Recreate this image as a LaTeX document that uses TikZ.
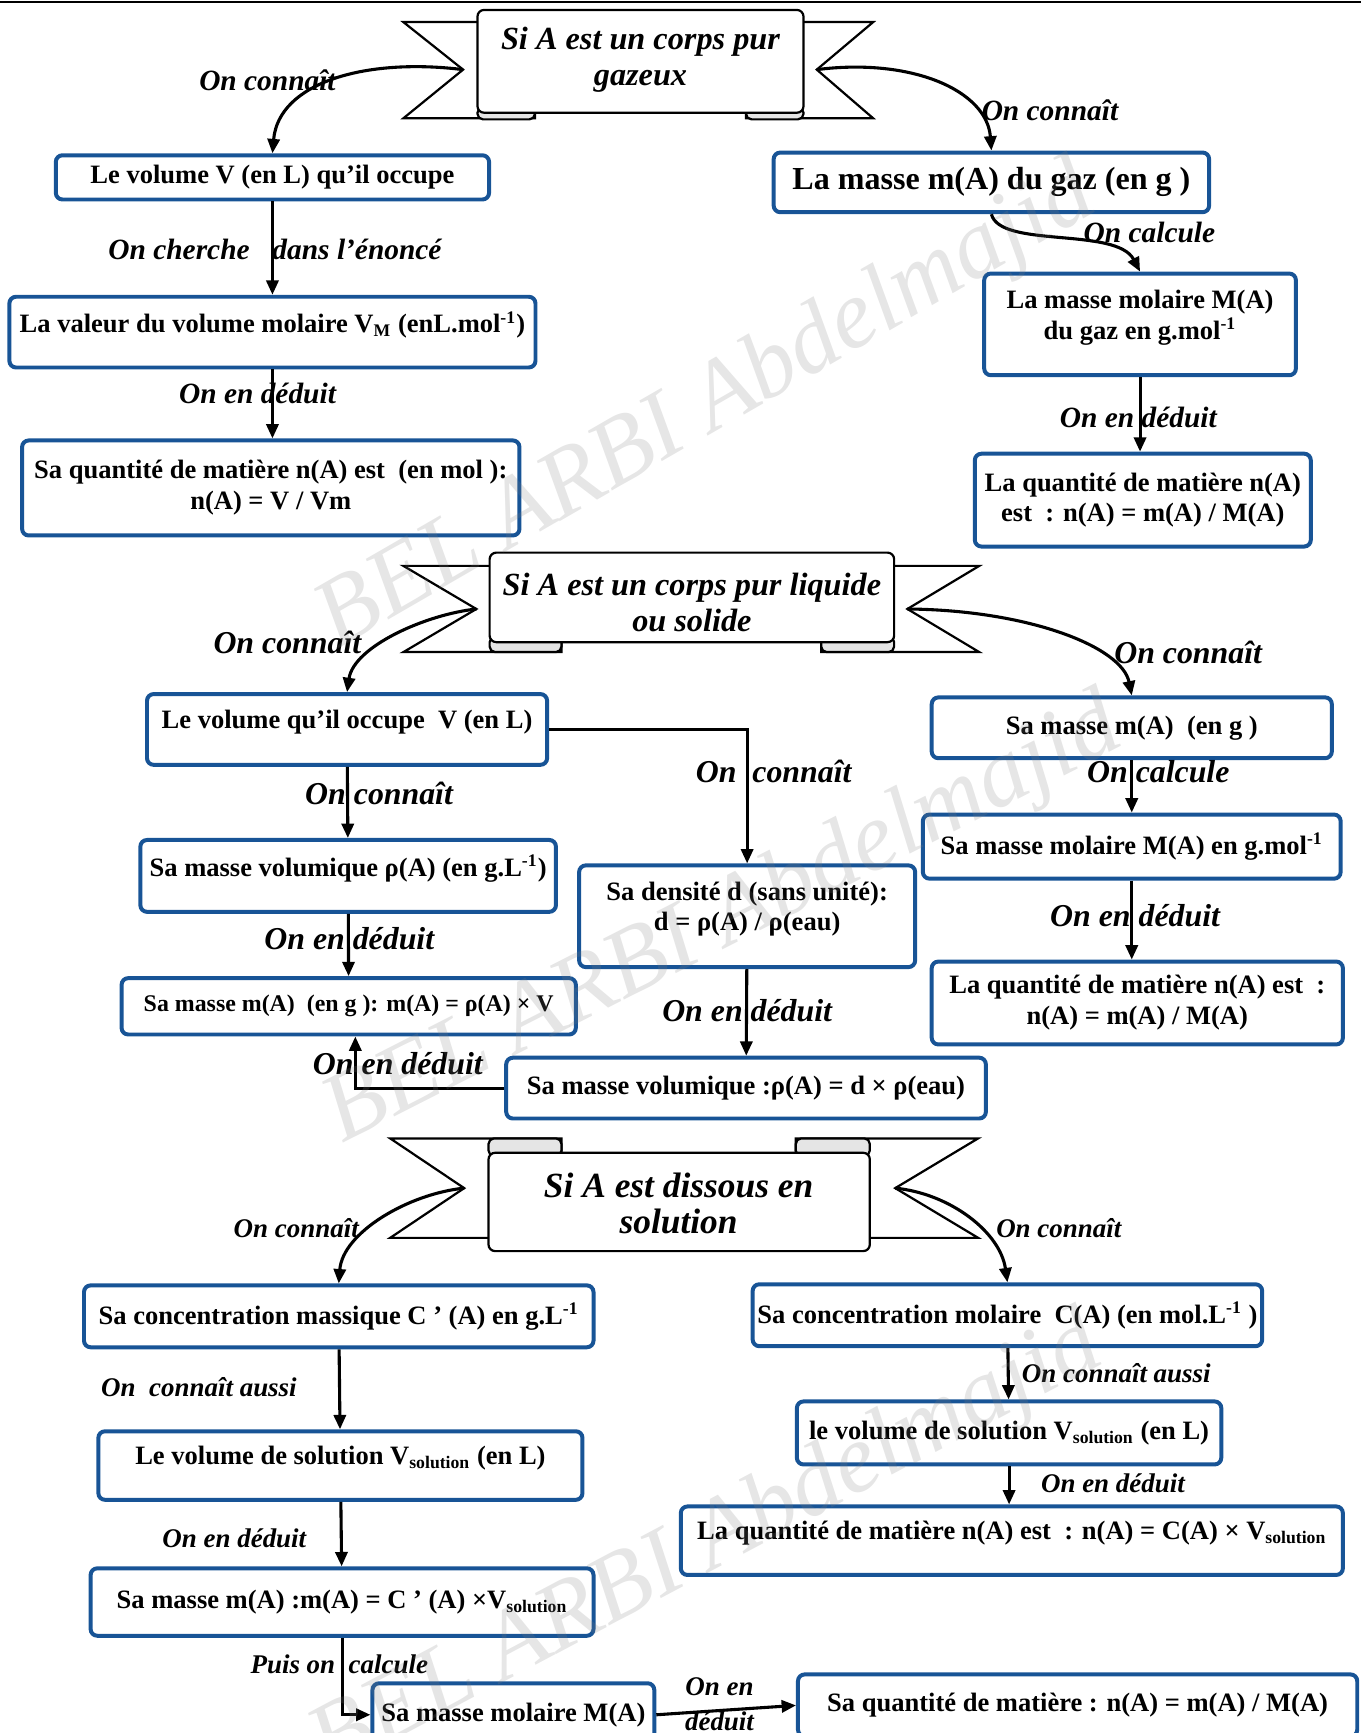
\documentclass[tikz,border=0pt]{standalone}
\usepackage{fontspec}
\setmainfont{Liberation Serif}
\usetikzlibrary{arrows.meta}
\definecolor{boxblue}{RGB}{24,84,150}

\begin{document}
\begin{tikzpicture}[x=0.5pt,y=-0.5pt,
		box/.style={draw=boxblue,line width=1.8pt,rounded corners=3pt,fill=white,align=center,inner sep=1pt,font=\bfseries\fontsize{#1}{14}\selectfont},
		box/.default=12,
		high/.style={text depth=9pt},
		lbl/.style={font=\bfseries\itshape\fontsize{#1}{15.5}\selectfont,inner sep=0pt,align=center},
		arr/.style={line width=1.4pt,-{Triangle[length=6.5pt,width=5.5pt]}},
		ribbon/.style={draw,line width=1pt,fill=white},
		roll/.style={draw,line width=1pt,fill=gray!20,rounded corners=2.5pt},
		title/.style={font=\bfseries\itshape\fontsize{#1}{16.5}\selectfont,align=center},
		wmark/.style={text=gray,opacity=0.2,font=\itshape\fontsize{44}{44}\selectfont}]
		\useasboundingbox (0,0) rectangle (1231,1568);
		\draw[line width=1pt] (0,2) -- (1231,2);
		%Banner 1
		\draw[ribbon] (432,20) -- (365,20) -- (419,63) -- (365,107) -- (484,107) -- (484,30) -- cycle;
		\draw[ribbon] (727,20) -- (790,20) -- (739,63) -- (790,107) -- (675,107) -- (675,30) -- cycle;
		\draw[roll] (432,97) rectangle (484,108);
		\draw[roll] (675,97) rectangle (727,108);
		\draw[ribbon,rounded corners=3pt] (432,9) rectangle (727,102);
		\node[title=14.6] (g1) at (579.5,54) {Si A est un corps pur\\gazeux};
		\coordinate (g1l) at (419,63);
		\coordinate (g1r) at (739,63);
		%Banner 2
		\draw[ribbon] (443,512) -- (365,512) -- (431,551) -- (365,590) -- (508,590) -- (508,520) -- cycle;
		\draw[ribbon] (809,512) -- (886,512) -- (821,551) -- (886,590) -- (743,590) -- (743,520) -- cycle;
		\draw[roll] (443,576) rectangle (508,590);
		\draw[roll] (743,576) rectangle (809,590);
		\draw[ribbon,rounded corners=3pt] (443,500) rectangle (809,581);
		\node[title=14.6] (g2) at (626,545) {Si A est un corps pur liquide\\ou solide};
		\coordinate (g2l) at (431,551);
		\coordinate (g2r) at (821,551);
		%Banner 3
		\draw[ribbon] (442,1120) -- (353,1120) -- (420,1075) -- (353,1030) -- (508,1030) -- (508,1100) -- cycle;
		\draw[ribbon] (787,1120) -- (885,1120) -- (810,1075) -- (885,1030) -- (720,1030) -- (720,1100) -- cycle;
		\draw[roll] (442,1030) rectangle (508,1046);
		\draw[roll] (720,1030) rectangle (787,1046);
		\draw[ribbon,rounded corners=3pt] (442,1043) rectangle (787,1132);
		\node[title=16] (g3) at (614,1089) {Si A est dissous en\\solution};
		\coordinate (g3l) at (420,1075);
		\coordinate (g3r) at (810,1075);
		%Boxes: gaz
		\node[box, minimum width=196pt, minimum height=20pt] (vol) at (246.5,160.5) {Le volume V (en L) qu’il occupe};
		\node[box=14.5, minimum width=197pt, minimum height=27pt] (mgaz) at (897,165) {La masse m(A) du gaz (en g )};
		\node[box, high, minimum width=238pt, minimum height=32pt] (vm) at (246.5,300.5) {La valeur du volume molaire V\textsubscript{M} (enL.mol\textsuperscript{-1})};
		\node[box, minimum width=225pt, minimum height=43pt] (nv) at (245,441.5) {Sa quantité de matière n(A) est~ (en mol ):\\n(A) = V / Vm};
		\node[box, high, minimum width=141pt, minimum height=46pt] (Mgaz) at (1031.5,293.5) {La masse molaire M(A)\\du gaz en g.mol\textsuperscript{-1}};
		\node[box, minimum width=152pt, minimum height=42pt] (nm) at (1034,452.5) {La quantité de matière n(A)\\est~ : n(A) = m(A) / M(A)};
		%Boxes: liquide ou solide
		\node[box, high, minimum width=181pt, minimum height=32pt] (vliq) at (314,660) {Le volume qu’il occupe~ V (en L)};
		\node[box, high, minimum width=188pt, minimum height=32.5pt] (rho) at (315,792.5) {Sa masse volumique ρ(A) (en g.L\textsuperscript{-1})};
		\node[box=10.8, minimum width=205.5pt, minimum height=25.5pt] (mrho) at (315.5,910.5) {Sa masse m(A)~ (en g ): m(A) = ρ(A) × V};
		\node[box, high, minimum width=152pt, minimum height=46pt] (dens) at (676,829) {Sa densité d (sans unité):\\d = ρ(A) / ρ(eau)};
		\node[box, minimum width=217pt, minimum height=27.5pt] (rhod) at (675,984.5) {Sa masse volumique :ρ(A) = d × ρ(eau)};
		\node[box, minimum width=181pt, minimum height=27.5pt] (mliq) at (1024,658.5) {Sa masse m(A)~ (en g )};
		\node[box, minimum width=189pt, minimum height=29pt] (Mliq) at (1024,766) {Sa masse molaire M(A) en g.mol\textsuperscript{-1}};
		\node[box, minimum width=186pt, minimum height=37.5pt] (nliq) at (1029,907.5) {La quantité de matière n(A) est~ :\\n(A) = m(A) / M(A)};
		%Boxes: solution
		\node[box, minimum width=230.5pt, minimum height=28pt] (cmass) at (306.5,1191) {Sa concentration massique C ’ (A) en g.L\textsuperscript{-1}};
		\node[box, high, minimum width=219pt, minimum height=31pt] (vsol) at (308,1326) {Le volume de solution V\textsubscript{solution} (en L)};
		\node[box, minimum width=227.5pt, minimum height=30.5pt] (msol) at (309.5,1449.5) {Sa masse m(A) :m(A) = C ’ (A) ×V\textsubscript{solution}};
		\node[box, minimum width=127.5pt, minimum height=28.5pt] (Msol) at (464.5,1551.5) {Sa masse molaire M(A)};
		\node[box, minimum width=253pt, minimum height=28pt] (nsol) at (975,1543) {Sa quantité de matière : n(A) = m(A) / M(A)};
		\node[box, minimum width=230.5pt, minimum height=28pt] (cmol) at (911.5,1190) {Sa concentration molaire~ C(A) (en mol.L\textsuperscript{-1} )};
		\node[box, minimum width=192pt, minimum height=28.5pt] (vsol2) at (913,1296.5) {le volume de solution V\textsubscript{solution} (en L)};
		\node[box, high, minimum width=299.5pt, minimum height=31pt] (nc) at (915.5,1394) {La quantité de matière n(A) est~ : n(A) = C(A) × V\textsubscript{solution}};
		%Labels
		\node[lbl=13.3] (k1) at (242,73) {On connaît};
		\node[lbl=13.3] (k2) at (950,100) {On connaît};
		\node[lbl=13.3] (k3) at (162,226) {On cherche};
		\node[lbl=13.3] (k4) at (323,226) {dans l’énoncé};
		\node[lbl=13.3] (k5) at (233,356) {On en déduit};
		\node[lbl=13.3] (k6) at (1040,210) {On calcule};
		\node[lbl=13.3] (k7) at (1030,378) {On en déduit};
		\node[lbl=14.4] (k8) at (260,581) {On connaît};
		\node[lbl=14.4] (k9) at (1075,590) {On connaît};
		\node[lbl=14.4] (k10) at (700,698) {On~~connaît};
		\node[lbl=14.4] (k11) at (343,718) {On connaît};
		\node[lbl=14.4] (k12) at (316,849) {On en déduit};
		\node[lbl=14.4] (k13) at (676,914) {On en déduit};
		\node[lbl=14.4] (k14) at (360,962) {On en déduit};
		\node[lbl=14.4] (k15) at (1048,698) {On calcule};
		\node[lbl=14.4] (k16) at (1027,828) {On en déduit};
		\node[lbl=12.2] (k17) at (268,1111) {On connaît};
		\node[lbl=12.2] (k18) at (958,1111) {On connaît};
		\node[lbl=12.2] (k19) at (180,1255) {On~~connaît aussi};
		\node[lbl=12.2] (k20) at (212,1392) {On en déduit};
		\node[lbl=12.2] (k21) at (307,1506) {Puis on~~calcule};
		\node[lbl=12.2] (k22) at (651,1542) {On en\\déduit};
		\node[lbl=12.2] (k23) at (1010,1242) {On connaît aussi};
		\node[lbl=12.2] (k24) at (1007,1342) {On en déduit};
		%Arrows
		\draw[arr] (g1l) .. controls (330,52) and (252,75) .. (vol.north);
		\draw[arr] (g1r) .. controls (825,52) and (893,82) .. (mgaz.north);
		\draw[arr] (vol) -- (vm);
		\draw[arr] (vm.south) -- (vm.south |- nv.north);
		\draw[arr] (mgaz.south) .. controls (905,225) and (1010,205) .. (Mgaz.north);
		\draw[arr] (Mgaz.south) -- (Mgaz.south |- nm.north);
		\draw[arr] (g2l) .. controls (385,556) and (320,585) .. (vliq.north);
		\draw[arr] (g2r) .. controls (930,552) and (1015,585) .. (mliq.north);
		\draw[arr] (vliq.east) -| (dens.north);
		\draw[arr] (vliq) -- (rho);
		\draw[arr] (rho) -- (mrho);
		\draw[arr] (dens) -- (rhod);
		\draw[arr] (rhod.west) -| ([xshift=3pt]mrho.south);
		\draw[arr] (mliq) -- (Mliq);
		\draw[arr] (Mliq.south) -- (Mliq.south |- nliq.north);
		\draw[arr] (g3l) .. controls (370,1080) and (310,1115) .. (cmass.north);
		\draw[arr] (g3r) .. controls (860,1080) and (905,1115) .. (cmol.north);
		\draw[arr] (cmass) -- (vsol);
		\draw[arr] (vsol) -- (msol);
		\draw[arr] (msol.south) |- (Msol.west);
		\draw[arr] (Msol.east) -- (nsol.west);
		\draw[arr] (cmol) -- (vsol2);
		\draw[arr] (vsol2.south) -- (vsol2.south |- nc.north);
		%Watermark
		\node[wmark,rotate=30] (w1) at (640,370) {BEL ARBI Abdelmajid};
		\node[wmark,rotate=27] (w2) at (655,835) {BEL ARBI Abdelmajid};
		\node[wmark,rotate=28] (w3) at (640,1400) {BEL ARBI Abdelmajid};
\end{tikzpicture}
\end{document}
